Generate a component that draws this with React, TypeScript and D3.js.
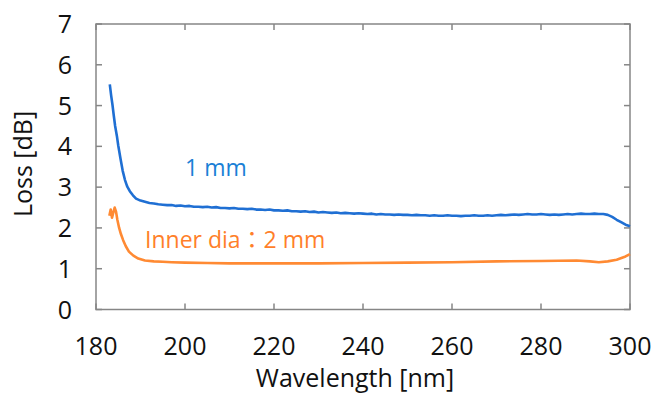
import React from "react";
import * as d3 from "d3";

const xTicks = [180, 200, 220, 240, 260, 280, 300];
const yTicks = [0, 1, 2, 3, 4, 5, 6, 7];

const blueWl = [183.1, 183.4, 183.7, 184.0, 184.3, 184.7, 185.0, 185.5, 186.0, 186.5, 187.0, 187.6, 188.3, 189.0,
  190, 191, 192, 193, 194, 195, 196, 197, 198, 199, 200, 201, 202, 203, 204, 205, 206, 207, 208, 209, 210,
  211, 212, 213, 214, 215, 216, 217, 218, 219, 220, 221, 222, 223, 224, 225, 226, 227, 228, 229, 230,
  231, 232, 233, 234, 235, 236, 237, 238, 239, 240, 241, 242, 243, 244, 245, 246, 247, 248, 249, 250,
  251, 252, 253, 254, 255, 256, 257, 258, 259, 260, 261, 262, 263, 264, 265, 266, 267, 268, 269, 270,
  271, 272, 273, 274, 275, 276, 277, 278, 279, 280, 281, 282, 283, 284, 285, 286, 287, 288, 289, 290,
  291, 292, 293, 294, 295, 296, 297, 298, 299, 300];
const blueLoss = [5.52, 5.25, 5.02, 4.75, 4.5, 4.25, 4.02, 3.7, 3.4, 3.18, 3.02, 2.9, 2.8, 2.72,
  2.67, 2.64, 2.61, 2.6, 2.58, 2.57, 2.56, 2.56, 2.54, 2.55, 2.53, 2.54, 2.52, 2.52, 2.51, 2.52, 2.5, 2.51, 2.49, 2.49, 2.48,
  2.49, 2.47, 2.47, 2.46, 2.47, 2.45, 2.45, 2.44, 2.45, 2.43, 2.43, 2.42, 2.43, 2.41, 2.41, 2.4, 2.41, 2.39, 2.4, 2.38,
  2.39, 2.38, 2.37, 2.38, 2.36, 2.37, 2.36, 2.35, 2.36, 2.35, 2.34, 2.35, 2.33, 2.34, 2.33, 2.33, 2.32, 2.33, 2.32, 2.32,
  2.31, 2.32, 2.31, 2.31, 2.3, 2.31, 2.3, 2.3, 2.31, 2.3, 2.3, 2.29, 2.3, 2.3, 2.31, 2.3, 2.3, 2.31, 2.3, 2.31,
  2.32, 2.31, 2.32, 2.33, 2.32, 2.33, 2.34, 2.33, 2.33, 2.34, 2.33, 2.32, 2.33, 2.32, 2.33, 2.34, 2.33, 2.34, 2.35, 2.34,
  2.34, 2.35, 2.34, 2.34, 2.32, 2.27, 2.2, 2.14, 2.08, 2.04];

const orangeWl = [183.0, 183.3, 183.6, 183.9, 184.2, 184.5, 184.8, 185.2, 185.6, 186.1, 186.7, 187.4, 188.4, 189.5,
  191, 193, 195, 197, 200, 205, 210, 220, 230, 240, 250, 260, 270, 280, 288, 291, 293, 295, 297, 299, 300];
const orangeLoss = [2.3, 2.45, 2.25, 2.38, 2.5, 2.4, 2.2, 2.0, 1.85, 1.7, 1.55, 1.42, 1.32, 1.25,
  1.2, 1.18, 1.17, 1.16, 1.15, 1.14, 1.13, 1.13, 1.13, 1.14, 1.15, 1.16, 1.18, 1.19, 1.2, 1.18, 1.16, 1.18, 1.22, 1.3, 1.36];

const blueLabel = "1 mm";
const orangeLabel = "Inner dia\uFF1A2 mm";

export default function App() {
  const W = 651, H = 394;
  const left = 96, right = 630, top = 24, bottom = 309.5;
  const x = d3.scaleLinear().domain([180, 300]).range([left, right]);
  const y = d3.scaleLinear().domain([0, 7]).range([bottom, top]);
  const line = d3.line<[number, number]>().x(d => x(d[0])).y(d => y(d[1]));
  const blue = line(blueWl.map((w, i) => [w, blueLoss[i]] as [number, number])) || "";
  const orange = line(orangeWl.map((w, i) => [w, orangeLoss[i]] as [number, number])) || "";
  const font = "'Open Sans', 'Noto Sans CJK JP', sans-serif";
  const axisColor = "#868686";
  const tl = 6;
  return (
    <svg width={W} height={H} style={{ position: "absolute", left: 0, top: 0, background: "#fff" }} fontFamily={font}>
      <rect x={0} y={0} width={W} height={H} fill="#fff" />
      <rect x={left} y={top} width={right - left} height={bottom - top} fill="none" stroke={axisColor} strokeWidth={1.5} />
      {xTicks.map(t => (
        <g key={"x" + t}>
          <line x1={x(t)} x2={x(t)} y1={bottom} y2={bottom - tl} stroke={axisColor} strokeWidth={1.5} />
          <line x1={x(t)} x2={x(t)} y1={top} y2={top + tl} stroke={axisColor} strokeWidth={1.5} />
          <text x={x(t)} y={355} textAnchor="middle" fontSize={25} fill="#111">{t}</text>
        </g>
      ))}
      {yTicks.map(t => (
        <g key={"y" + t}>
          <line x1={left} x2={left + tl} y1={y(t)} y2={y(t)} stroke={axisColor} strokeWidth={1.5} />
          <line x1={right} x2={right - tl} y1={y(t)} y2={y(t)} stroke={axisColor} strokeWidth={1.5} />
          <text x={72} y={y(t) + 9} textAnchor="end" fontSize={25} fill="#111">{t}</text>
        </g>
      ))}
      <path d={orange} fill="none" stroke="#FF8A33" strokeWidth={2.6} strokeLinejoin="round" />
      <path d={blue} fill="none" stroke="#1F6FD3" strokeWidth={2.6} strokeLinejoin="round" />
      <text x={185} y={176} fontSize={23} fill="#1A80D6">{blueLabel}</text>
      <text x={145} y={248} fontSize={23} fill="#FF7F2A">{orangeLabel}</text>
      <text x={355} y={387} textAnchor="middle" fontSize={25} fill="#111">Wavelength [nm]</text>
      <text transform={`translate(32,164) rotate(-90)`} textAnchor="middle" fontSize={25} fill="#111">Loss [dB]</text>
    </svg>
  );
}
